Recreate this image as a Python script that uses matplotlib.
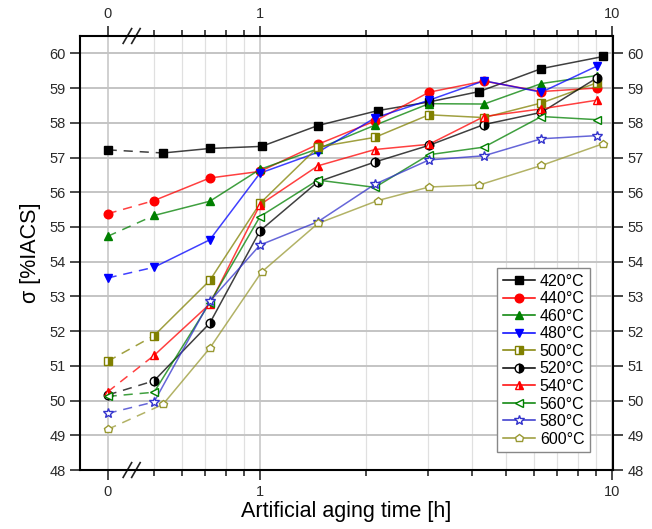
import numpy as np
import matplotlib.pyplot as plt
from matplotlib.lines import Line2D
from matplotlib.ticker import FixedLocator, NullFormatter

plt.rcParams["font.family"] = ["Liberation Sans", "DejaVu Sans"]

# aging time [h]; 0 is drawn at a stand-in position on the log axis
ZERO_POS = 0.369
t_a = [0, 0.53, 0.72, 1.01, 1.46, 2.16, 3.02, 4.2, 6.3, 9.45]   # 420 / 600 °C
t_b = [0, 0.5, 0.72, 1.0, 1.46, 2.12, 3.02, 4.33, 6.3, 9.05]    # others

temps = ["420°C", "440°C", "460°C", "480°C", "500°C",
         "520°C", "540°C", "560°C", "580°C", "600°C"]

s420 = [57.22, 57.13, 57.26, 57.32, 57.92, 58.35, 58.60, 58.90, 59.56, 59.91]
s440 = [55.38, 55.76, 56.41, 56.60, 57.38, 58.05, 58.88, 59.20, 58.90, 59.00]
s460 = [54.73, 55.33, 55.74, 56.66, 57.25, 57.93, 58.55, 58.54, 59.13, 59.36]
s480 = [53.53, 53.84, 54.63, 56.55, 57.15, 58.14, 58.65, 59.21, 58.88, 59.63]
s500 = [51.13, 51.87, 53.46, 55.68, 57.30, 57.58, 58.23, 58.15, 58.57, 59.15]
s520 = [50.16, 50.57, 52.23, 54.89, 56.30, 56.87, 57.35, 57.95, 58.30, 59.29]
s540 = [50.25, 51.30, 52.78, 55.64, 56.76, 57.23, 57.38, 58.18, 58.40, 58.65]
s560 = [50.12, 50.24, 52.82, 55.30, 56.35, 56.14, 57.08, 57.30, 58.18, 58.09]
s580 = [49.63, 49.96, 52.86, 54.48, 55.15, 56.23, 56.93, 57.05, 57.54, 57.63]
s600 = [49.17, 49.89, 51.51, 53.70, 55.10, 55.76, 56.15, 56.21, 56.77, 57.40]

series = [s420, s440, s460, s480, s500, s520, s540, s560, s580, s600]
times = [t_a, t_b, t_b, t_b, t_b, t_b, t_b, t_b, t_b, t_a]

# (color, marker, fillstyle, open)
styles = [
    ("#000000", "s", "full", False),
    ("#ff0000", "o", "full", False),
    ("#008000", "^", "full", False),
    ("#0000ff", "v", "full", False),
    ("#808000", "s", "right", False),
    ("#000000", "o", "right", False),
    ("#ff0000", "^", "right", False),
    ("#008000", "<", "full", True),
    ("#3333cc", "*", "full", True),
    ("#999933", "p", "full", True),
]

fig = plt.figure(figsize=(6.52, 5.29), dpi=100)
ax = fig.add_axes([0.1227, 0.1115, 0.8169, 0.8205])
ax.set_xscale("log")

handles = []
for k, (vals, tt, lab, st) in enumerate(zip(series, times, temps, styles)):
    col, mk, fs, hollow = st
    x = np.array([ZERO_POS if t == 0 else t for t in tt])
    y = np.array(vals)
    mkw = dict(marker=mk, markersize=7.5 if mk == "*" else 6.2, markeredgecolor=col,
               markeredgewidth=1.0, fillstyle=fs)
    if hollow:
        mkw["markerfacecolor"] = "white"
    else:
        mkw["markerfacecolor"] = col
        mkw["markerfacecoloralt"] = "white"
    ax.plot(x[:2], y[:2], color=col, lw=1.1, alpha=0.75, dashes=(6, 4.5),
            zorder=2 + k * 0.01)
    ax.plot(x[1:], y[1:], color=col, lw=1.1, alpha=0.75, zorder=2 + k * 0.01)
    ax.plot(x, y, linestyle="none", zorder=3 + k * 0.01, **mkw)
    handles.append(Line2D([], [], color=col, lw=1.1, **mkw))

ax.set_xlim(0.308, 10.04)
ax.set_ylim(48, 60.5)

ax.xaxis.set_major_locator(FixedLocator([ZERO_POS, 1, 10]))
ax.set_xticklabels(["0", "1", "10"])
minors = [0.5, 0.6, 0.7, 0.8, 0.9, 2, 3, 4, 5, 6, 7, 8, 9]
ax.xaxis.set_minor_locator(FixedLocator(minors))
ax.xaxis.set_minor_formatter(NullFormatter())
ax.set_yticks(np.arange(48, 61, 1))

ax.tick_params(which="both", direction="out", top=True, right=True,
               labeltop=True, labelright=True, width=1.2,
               labelsize=10.5, colors="#2a2a2a")
ax.tick_params(which="major", length=7)
ax.tick_params(which="minor", length=4)
for sp in ax.spines.values():
    sp.set_linewidth(1.5)

ax.grid(True, axis="y", which="major", color="#c4c4c4", lw=1.4, zorder=0)
ax.grid(True, axis="x", which="major", color="#c4c4c4", lw=1.1, zorder=0)
ax.grid(True, axis="x", which="minor", color="#e0e0e0", lw=0.9, zorder=0)
ax.set_axisbelow(True)

# axis break marks
for yb in (0.0, 1.0):
    for xb in (0.089, 0.105):
        ax.plot([xb - 0.008, xb + 0.008], [yb - 0.017, yb + 0.017],
                transform=ax.transAxes, color="#222222", lw=1.2, clip_on=False)

ax.set_xlabel("Artificial aging time [h]", fontsize=15.5, labelpad=2)
ax.set_ylabel("σ [%IACS]", fontsize=15.5, labelpad=6)

leg = ax.legend(handles, temps, loc="lower right", bbox_to_anchor=(0.958, 0.041),
                borderaxespad=0, fontsize=11.5, frameon=True, fancybox=False,
                edgecolor="#888888", framealpha=1, handlelength=2.0,
                handletextpad=0.3, labelspacing=0.16, borderpad=0.35)
leg.get_frame().set_linewidth(1.0)

fig.savefig("out.png", dpi=100)
